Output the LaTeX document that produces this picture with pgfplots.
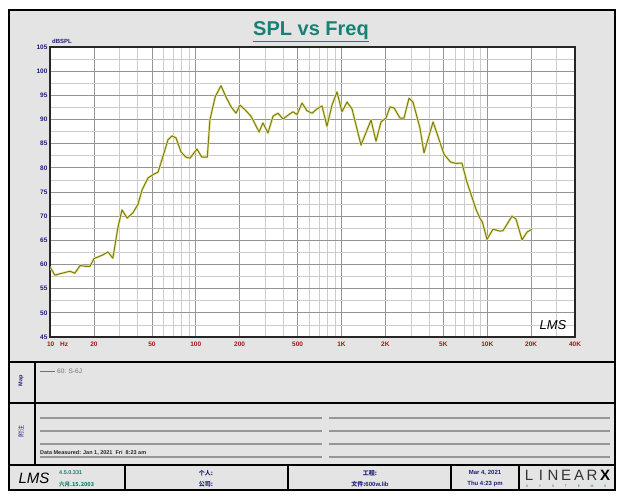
\documentclass[border=0pt]{standalone}
\usepackage{pgfplots}
\pgfplotsset{compat=1.18}
\usepackage{pgfplotstable}
\usepackage{fontspec}
\setmainfont{Liberation Sans}
\newfontfamily\cjk{Noto Sans CJK SC}
\definecolor{titleteal}{RGB}{22,130,115}
\definecolor{navy}{RGB}{30,30,120}
\definecolor{xred}{RGB}{165,20,20}
\definecolor{curve}{RGB}{125,125,20}
\definecolor{halo}{RGB}{232,232,160}
\definecolor{panel}{RGB}{228,228,228}
\definecolor{noteline}{RGB}{150,150,150}
\pgfplotstableread{
f db
10 59.5
10.8 57.8
12.1 58.2
13.7 58.6
14.8 58.2
16.1 59.8
17.7 59.6
18.8 59.6
20.0 61.2
23.1 62.0
25.0 62.6
27.0 61.3
29.3 67.8
31.2 71.3
33.8 69.6
37.1 70.7
40.2 72.5
42.8 75.4
47.0 77.9
51.7 78.7
55.1 79.1
59.6 82.4
64.5 85.8
68.7 86.6
73.2 86.2
79.2 83.3
85.7 82.2
91.3 82.0
102 83.9
110 82.2
120 82.2
125 89.9
136 94.7
149 97.0
161 94.7
175 92.6
189 91.3
201 93.0
218 92.0
239 90.7
251 89.5
272 87.4
289 89.3
313 87.2
339 90.7
367 91.3
397 90.1
430 90.9
465 91.6
495 91.0
536 93.4
580 91.8
628 91.3
679 92.2
735 92.8
795 88.6
861 93.0
931 95.7
1008 91.6
1091 93.6
1180 92.2
1361 84.7
1594 89.9
1725 85.5
1866 89.5
2020 90.3
2152 92.6
2293 92.4
2520 90.3
2685 90.3
2905 94.4
3095 93.6
3456 88.2
3681 83.1
4250 89.5
5050 82.8
5600 81.2
6100 80.9
6700 81.0
7262 77.0
8400 71.3
8900 69.6
9250 68.8
9961 65.2
10950 67.3
12230 66.9
12830 67.0
14780 70.0
15750 69.4
17320 65.1
18740 66.7
20280 67.3
}\spl
\begin{document}
\begin{tikzpicture}
\begin{scope}[x=1pt,y=1pt]
\fill[white] (0,0) rectangle (626,500);
\fill[panel] (9,10) rectangle (615,490);
\end{scope}
% chart
\begin{axis}[
  at={(50pt,453pt)}, anchor=north west,
  scale only axis, width=525pt, height=290pt,
  axis background/.style={fill=white},
  xmode=log, log basis x=10,
  xmin=10, xmax=40000, ymin=45, ymax=105,
  xtick={10,20,50,100,200,500,1000,2000,5000,10000,20000,40000},
  xticklabels={\makebox[0pt][l]{\hspace{-3pt}10\hspace{6pt}Hz},20,50,100,200,500,1K,2K,5K,10K,20K,40K},
  minor xtick={30,40,60,70,80,90,300,400,600,700,800,900,3000,4000,6000,7000,8000,9000,30000},
  ytick={45,50,...,105},
  minor ytick={47.5,52.5,...,102.5},
  grid=both,
  major grid style={draw=black!42, line width=0.7pt},
  minor grid style={draw=black!20, line width=0.6pt},
  major tick length=0pt, minor tick length=0pt,
  axis line style={draw=black!85, line width=1.2pt},
  tick label style={font=\fontsize{6.5}{7}\selectfont\bfseries},
  xticklabel style={color=xred, text height=5pt, text depth=0pt, yshift=-1pt},
  yticklabel style={color=navy, xshift=1pt},
  /pgf/number format/assume math mode=true,
  clip=true,
]
\addplot[color=halo, line width=2.4pt, line join=round] table[x=f,y=db]{\spl};
\addplot[color=curve, line width=1pt, line join=round] table[x=f,y=db]{\spl};
\end{axis}
\begin{scope}[x=1pt,y=1pt]
\node[anchor=base west, text=navy, font=\fontsize{6}{7}\selectfont\bfseries, inner sep=0pt] at (52,456) {dBSPL};
\node[font=\fontsize{13}{13}\selectfont\itshape, inner sep=0pt] at (553,175) {LMS};
% title
\node[text=titleteal, font=\fontsize{20}{22}\selectfont\bfseries, inner sep=0pt] at (311,468) {\underline{SPL vs Freq}};
% dividers
\draw[line width=2.5pt] (9,138) -- (615,138);
\draw[line width=2.5pt] (9,97) -- (615,97);
\draw[line width=2.5pt] (9,35) -- (615,35);
\draw[line width=1.8pt] (35,138) -- (35,35);
\foreach \xx in {125,288,451,519} {\draw[line width=1.8pt] (\xx,35) -- (\xx,10);}
\draw[line width=2.5pt] (9,10) rectangle (615,490);
% left labels
\node[rotate=90, text=navy, font=\fontsize{5.5}{6}\selectfont\bfseries] at (21,119) {Map};
\node[rotate=90, text=navy, font=\cjk\fontsize{6}{6}\selectfont] at (21,68) {附注};
% legend
\draw[curve, line width=1pt] (40,128) -- (55,128);
\node[anchor=west, text=black!55, font=\fontsize{6.5}{7}\selectfont, inner sep=0pt] at (57,128.5) {60: S-6J};
% note lines
\foreach \yy in {82,69,56,43} {
  \draw[noteline, line width=1.3pt] (40,\yy) -- (322,\yy);
  \draw[noteline, line width=1.3pt] (329,\yy) -- (610,\yy);
}
\node[anchor=base west, text=black!85, font=\fontsize{5.5}{6}\selectfont\bfseries, inner sep=0pt] at (40,45.5) {Data Measured: Jan 1, 2021\ \ Fri\ \ 8:23 am};
% footer
\node[font=\fontsize{15}{15}\selectfont\itshape, inner sep=0pt] at (34,22) {LMS};
\node[anchor=west, text=titleteal, font=\fontsize{5.5}{6}\selectfont\bfseries, inner sep=0pt] at (59,27) {4.5.0.331};
\node[anchor=west, text=titleteal, font=\cjk\fontsize{5.5}{6}\selectfont\bfseries, inner sep=0pt] at (59,16) {六月.15.2003};
\node[text=navy, font=\cjk\fontsize{6}{6}\selectfont\bfseries, inner sep=0pt] at (206,27) {个人:};
\node[text=navy, font=\cjk\fontsize{6}{6}\selectfont\bfseries, inner sep=0pt] at (206,16) {公司:};
\node[text=navy, font=\cjk\fontsize{6}{6}\selectfont\bfseries, inner sep=0pt] at (370,27) {工程:};
\node[text=navy, font=\fontsize{6}{6}\selectfont\bfseries, inner sep=0pt] at (370,16) {{\cjk 文件:}600w.lib};
\node[text=navy, font=\fontsize{6}{6}\selectfont\bfseries, inner sep=0pt] at (485,27) {Mar 4, 2021};
\node[text=navy, font=\fontsize{6}{6}\selectfont\bfseries, inner sep=0pt] at (485,16) {Thu 4:23 pm};
\foreach \ch/\xx in {L/529,I/541,N/553,E/566,A/579,R/592} {\node[text=black!80, font=\fontsize{15}{15}\selectfont, inner sep=0pt] at (\xx,25) {\ch};}
\node[font=\fontsize{15}{15}\selectfont\bfseries, inner sep=0pt] at (605,25) {X};
\foreach \ch/\xx in {S/527,Y/540,S/553,T/566,E/579,M/592,S/605} {\node[text=titleteal, font=\fontsize{3.5}{4}\selectfont, inner sep=0pt] at (\xx,14) {\ch};}
\end{scope}
\end{tikzpicture}
\end{document}
